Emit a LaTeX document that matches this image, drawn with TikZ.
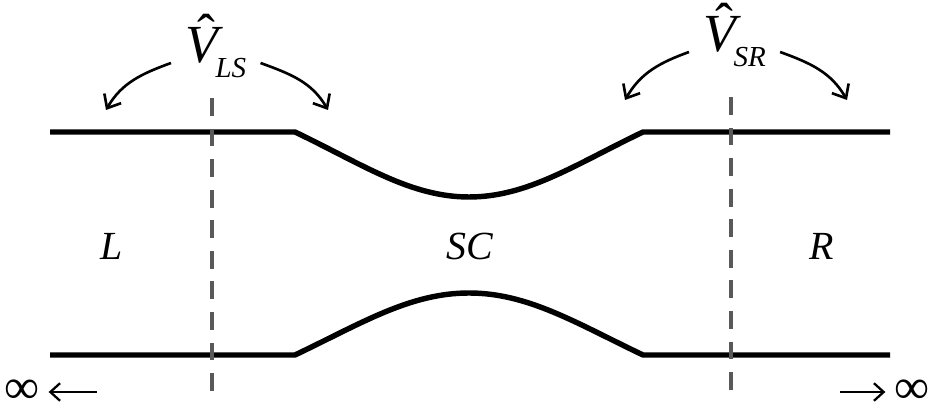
\documentclass[tikz,border=0pt]{standalone}
\usepackage{fontspec}
\setmainfont{Liberation Serif}
\usetikzlibrary{arrows.meta}

\newcommand{\hatV}{\ooalign{V\cr\hidewidth\kern5pt\raisebox{6.5pt}{\upshape ˆ}\hidewidth\cr}}
\newcommand{\potential}[1]{\hatV\kern-1.5pt\raisebox{-8.5pt}{\fontsize{16.5}{17}\selectfont #1}}

\begin{document}
\begin{tikzpicture}[
    x=0.02cm, y=0.02cm,
    wall/.style={line width=3.1pt, line join=round},
    cut/.style={line width=2.2pt, draw=black!65, dash pattern=on 10.2pt off 7.2pt},
    region/.style={font=\fontsize{22.7}{27}\selectfont\itshape, anchor=base, inner sep=0pt},
    coupling/.style={font=\fontsize{30.5}{36}\selectfont\itshape, anchor=base west, inner xsep=8pt, inner ysep=0pt},
    bendarrow/.style={line width=1.5pt, -{Straight Barb[length=6.5pt,width=11pt]}},
    infarrow/.style={line width=1.3pt, -{Straight Barb[length=5.5pt,width=10pt]}},
    inf/.style={font=\fontsize{28}{30}\selectfont, inner xsep=5pt, inner ysep=0pt}
  ]
    \useasboundingbox (0,0) rectangle (933,412);

    % Walls of the constriction
    \draw[wall] (50,280) -- (295,280) .. controls (362,248) and (410,215) .. (469,215)
      .. controls (528,215) and (576,248) .. (643,280) -- (890,280);
    \draw[wall] (50,57) -- (295,57) .. controls (362,89) and (410,119) .. (469,119)
      .. controls (528,119) and (576,89) .. (643,57) -- (890,57);

    % Cuts between the regions
    \draw[cut] (212,314) -- (212,19);
    \draw[cut] (731,315) -- (731,20);

    % Regions
    \node[region] (left) at (112,152) {L};
    \node[region] (centre) at (470,152) {SC};
    \node[region] (right) at (822,152) {R};

    % Couplings
    \node[coupling] (vls) at (171,349) {\potential{LS}};
    \node[coupling] (vsr) at (689,360) {\potential{SR}};
    \coordinate (lsL) at (106,302);
    \coordinate (lsR) at (328,302);
    \coordinate (srL) at (625,312);
    \coordinate (srR) at (847,312);
    \draw[bendarrow] (vls.base west) to[out=200, in=60] (lsL);
    \draw[bendarrow] (vls.base east) to[out=-20, in=120] (lsR);
    \draw[bendarrow] (vsr.base west) to[out=200, in=60] (srL);
    \draw[bendarrow] (vsr.base east) to[out=-20, in=120] (srR);

    % Leads to infinity
    \node[inf] (infL) at (22,20) {∞};
    \node[inf] (infR) at (912,20) {∞};
    \coordinate (farL) at (97,20);
    \coordinate (farR) at (840,20);
    \draw[infarrow] (farL) -- (infL);
    \draw[infarrow] (farR) -- (infR);

  \end{tikzpicture}
\end{document}
